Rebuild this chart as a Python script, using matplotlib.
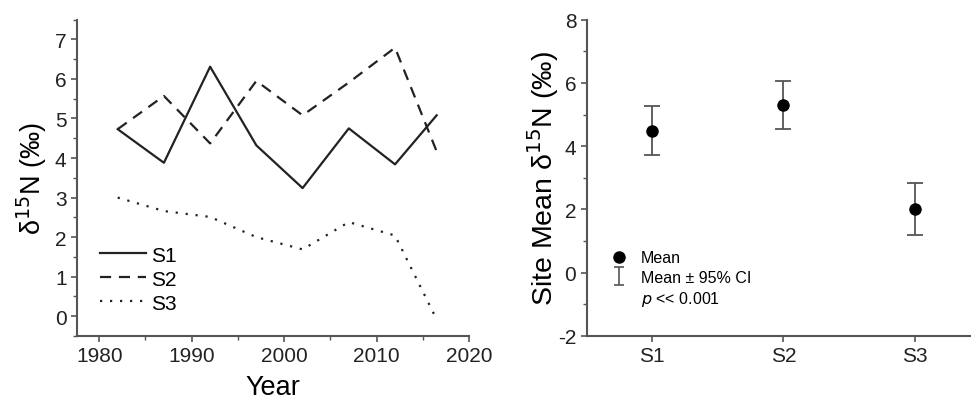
import matplotlib
matplotlib.use("Agg")
import matplotlib.pyplot as plt
from matplotlib.lines import Line2D
from matplotlib.path import Path
from matplotlib.ticker import MultipleLocator

plt.rcParams['font.family'] = ['Liberation Sans', 'DejaVu Sans']
plt.rcParams['axes.unicode_minus'] = False

years = [1982, 1987, 1992, 1997, 2002, 2007, 2012, 2016.5]
s1 = [4.73, 3.88, 6.31, 4.32, 3.24, 4.75, 3.84, 5.08]
s2 = [4.73, 5.57, 4.37, 5.95, 5.08, 5.91, 6.79, 4.17]
s3 = [3.00, 2.66, 2.51, 2.00, 1.69, 2.38, 2.04, -0.08]

sites = ["S1", "S2", "S3"]
site_means = [4.49, 5.30, 2.00]
ci_upper = [5.27, 6.07, 2.83]
ci_lower = [3.73, 4.55, 1.18]

fig = plt.figure(figsize=(9.71, 4.02), dpi=100)
lc = '#222222'
sc = '#555555'

# Left panel
ax1 = fig.add_axes([0.0793, 0.1617, 0.4037, 0.787])
ax1.plot(years, s1, color=lc, lw=1.6, ls='-', label='S1')
ax1.plot(years, s2, color=lc, lw=1.6, ls=(0, (5, 3.5)), label='S2')
ax1.plot(years, s3, color=lc, lw=1.6, ls=(0, (1, 3.5)), label='S3')
ax1.set_xlim(1977.6, 2020)
ax1.set_ylim(-0.5, 7.5)
ax1.xaxis.set_major_locator(MultipleLocator(10))
ax1.xaxis.set_minor_locator(MultipleLocator(5))
ax1.yaxis.set_major_locator(MultipleLocator(1))
ax1.yaxis.set_minor_locator(MultipleLocator(0.5))
ax1.set_xlabel('Year', fontsize=19.5, labelpad=6)
ax1.set_ylabel('δ$^{15}$N (‰)', fontsize=19.5, labelpad=4)
ax1.legend(loc='lower left', bbox_to_anchor=(0.01, 0.015), frameon=False,
           fontsize=15, handlelength=2.2, handletextpad=0.25, labelspacing=0.24)

# Right panel
ax2 = fig.add_axes([0.6042, 0.1617, 0.3958, 0.787])
xpos = [1, 2, 3]
yerr = [[m - lo for m, lo in zip(site_means, ci_lower)],
        [hi - m for m, hi in zip(site_means, ci_upper)]]
ax2.errorbar(xpos, site_means, yerr=yerr, fmt='none', ecolor='#555555',
             elinewidth=1.3, capsize=5.5, capthick=1.3)
ax2.plot(xpos, site_means, 'o', color='black', ms=8)
ax2.set_xlim(0.5, 3.43)
ax2.set_ylim(-2, 8)
ax2.set_xticks(xpos)
ax2.set_xticklabels(sites)
ax2.yaxis.set_major_locator(MultipleLocator(2))
ax2.yaxis.set_minor_locator(MultipleLocator(1))
ax2.set_ylabel('Site Mean δ$^{15}$N (‰)', fontsize=20.5, labelpad=-2)

ibeam = Path([(-0.5, -1), (0.5, -1), (0, -1), (0, 1), (-0.5, 1), (0.5, 1)],
             [Path.MOVETO, Path.LINETO, Path.MOVETO, Path.LINETO, Path.MOVETO, Path.LINETO])
h_mean = Line2D([], [], marker='o', color='black', ls='none', ms=8)
h_ci = Line2D([], [], marker=ibeam, color='#555555', mfc='none', mew=1.2, ls='none', ms=13)
h_p = Line2D([], [], color='none')
ax2.legend([h_mean, h_ci, h_p], ['Mean', 'Mean ± 95% CI', '$\\it{p}$ << 0.001'],
           loc='lower left', bbox_to_anchor=(0.025, 0.042), frameon=False, fontsize=11.5,
           handlelength=1.0, handletextpad=0.9, labelspacing=0.28)

for ax in (ax1, ax2):
    for s in ['top', 'right']:
        ax.spines[s].set_visible(False)
    for s in ['left', 'bottom']:
        ax.spines[s].set_color(sc)
        ax.spines[s].set_linewidth(1.5)
    ax.tick_params(which='major', direction='out', length=4, width=1.2, color=sc,
                   labelsize=15, labelcolor='#222222')
    ax.tick_params(which='minor', direction='out', length=3, width=1.0, color=sc)
ax2.tick_params(axis='x', which='minor', length=0)

fig.savefig('out.png', dpi=100)
